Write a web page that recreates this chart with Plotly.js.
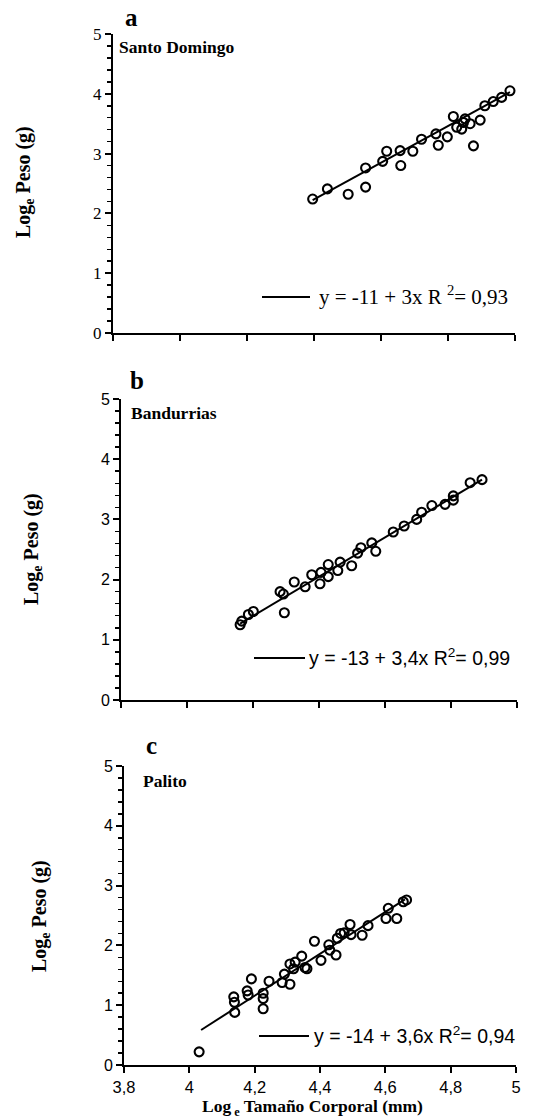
<!DOCTYPE html>
<html><head><meta charset="utf-8">
<script src="https://cdn.plot.ly/plotly-3.0.1.min.js"></script>
<style>html,body{margin:0;padding:0;background:#fff}#chart{width:560px;height:1120px}</style>
</head><body><div id="chart"></div>
<script>
// ---- data ----
const panelLetters = ['a', 'b', 'c'];
const siteNames = ['Santo Domingo', 'Bandurrias', 'Palito'];
const fitLabels = ['y = -11 + 3x R <sup>2</sup>= 0,93', 'y = -13 + 3,4x R<sup>2</sup>= 0,99', 'y = -14 + 3,6x R<sup>2</sup>= 0,94'];
const yTitle = 'Log<sub>e</sub> Peso (g)';
const xTitle = 'Log<sub> e</sub> Tamaño Corporal (mm)';

// a: Santo Domingo
const sdX = [4.396, 4.440, 4.502, 4.554, 4.554, 4.605, 4.617, 4.657, 4.659, 4.695, 4.721, 4.764, 4.771, 4.798, 4.816, 4.826, 4.846, 4.851, 4.841, 4.866, 4.896, 4.876, 4.910, 4.935, 4.960, 4.985];
const sdY = [2.24, 2.41, 2.32, 2.76, 2.44, 2.87, 3.04, 3.05, 2.80, 3.04, 3.24, 3.33, 3.14, 3.28, 3.62, 3.44, 3.52, 3.58, 3.41, 3.50, 3.56, 3.13, 3.80, 3.87, 3.94, 4.05];
const sdFitX = [4.396, 4.985];
const sdFitY = [2.22, 4.03];

// b: Bandurrias
const baX = [4.161, 4.166, 4.186, 4.201, 4.282, 4.292, 4.295, 4.325, 4.358, 4.378, 4.403, 4.406, 4.428, 4.428, 4.457, 4.464, 4.499, 4.517, 4.527, 4.560, 4.572, 4.625, 4.658, 4.696, 4.711, 4.742, 4.782, 4.807, 4.807, 4.858, 4.894];
const baY = [1.25, 1.31, 1.42, 1.47, 1.80, 1.76, 1.45, 1.96, 1.88, 2.08, 1.93, 2.12, 2.25, 2.05, 2.15, 2.29, 2.23, 2.44, 2.53, 2.61, 2.47, 2.79, 2.89, 3.00, 3.12, 3.23, 3.25, 3.32, 3.39, 3.61, 3.66];
const baFitX = [4.161, 4.894];
const baFitY = [1.27, 3.66];

// c: Palito
const paX = [4.030, 4.136, 4.138, 4.139, 4.177, 4.180, 4.190, 4.226, 4.226, 4.226, 4.244, 4.284, 4.291, 4.308, 4.308, 4.319, 4.324, 4.344, 4.354, 4.360, 4.383, 4.403, 4.427, 4.430, 4.449, 4.453, 4.463, 4.474, 4.492, 4.495, 4.529, 4.547, 4.602, 4.609, 4.635, 4.655, 4.665];
const paY = [0.22, 1.14, 1.05, 0.88, 1.24, 1.17, 1.44, 1.20, 1.11, 0.94, 1.40, 1.38, 1.52, 1.35, 1.69, 1.61, 1.72, 1.82, 1.63, 1.61, 2.07, 1.75, 2.01, 1.92, 1.84, 2.12, 2.20, 2.21, 2.35, 2.18, 2.17, 2.33, 2.45, 2.62, 2.45, 2.73, 2.76];
const paFitX = [4.036, 4.660];
const paFitY = [0.585, 2.77];

// ---- layout helpers (pixel -> paper) ----
const W = 560, H = 1120;
const px = v => v / W;
const py = v => 1 - v / H;
const SERIF = 'Liberation Serif, Times New Roman, serif';
const SANS = 'Liberation Sans, Arial, sans-serif';

const panels = [
  {xs: sdX, ys: sdY, fx: sdFitX, fy: sdFitY, xd: [113, 515], yd: [333, 34], tickFont: SERIF, tickSize: 17, legFont: SERIF, legSize: 21},
  {xs: baX, ys: baY, fx: baFitX, fy: baFitY, xd: [121, 517], yd: [700, 399], tickFont: SANS, tickSize: 16, legFont: SANS, legSize: 19.5},
  {xs: paX, ys: paY, fx: paFitX, fy: paFitY, xd: [124, 516], yd: [1065, 766], tickFont: SANS, tickSize: 16, legFont: SANS, legSize: 19.5}
];
const legLine = [[262, 310, 297], [254, 305, 658], [259, 309, 1036]];
const legText = [[317, 296], [307, 657], [312, 1035]];
const letterPos = [[123, 18], [128, 380], [144, 745]];
const sitePos = [[117, 47], [129, 413], [141, 781]];
const yTitlePos = [[25, 182], [33, 549], [40, 916]];

const data = [];
const layout = {
  width: W, height: H,
  margin: {l: 0, r: 0, t: 0, b: 0},
  paper_bgcolor: '#fff', plot_bgcolor: '#fff',
  separators: ',.',
  showlegend: false,
  annotations: [], shapes: [],
  font: {family: SERIF, color: '#000'}
};

panels.forEach((p, i) => {
  const n = i === 0 ? '' : String(i + 1);
  const xa = 'x' + n, ya = 'y' + n;
  data.push({
    x: p.xs, y: p.ys, xaxis: xa, yaxis: ya, type: 'scatter', mode: 'markers',
    marker: {symbol: 'circle-open', size: 9, color: '#000', line: {width: 2.1, color: '#000'}},
    hoverinfo: 'skip', cliponaxis: false, name: siteNames[i]
  });
  data.push({
    x: p.fx, y: p.fy, xaxis: xa, yaxis: ya, type: 'scatter', mode: 'lines',
    line: {color: '#000', width: 2}, name: fitLabels[i], hoverinfo: 'skip'
  });
  layout['xaxis' + n] = {
    domain: [px(p.xd[0]), px(p.xd[1])], anchor: ya,
    range: [3.8, 5], tickmode: 'linear', tick0: 3.8, dtick: 0.2,
    ticks: 'outside', ticklen: 6, tickwidth: 2, tickcolor: '#000',
    showline: true, linewidth: 2, linecolor: '#000', showgrid: false, zeroline: false,
    showticklabels: i === 2, tickfont: {family: SANS, size: 16.5, color: '#000'}, ticklabelstandoff: 0,
    automargin: false, fixedrange: true
  };
  layout['yaxis' + n] = {
    domain: [py(p.yd[0]), py(p.yd[1])], anchor: xa,
    range: [0, 5], tickmode: 'linear', tick0: 0, dtick: 1,
    ticks: 'outside', ticklen: 6, tickwidth: 2, tickcolor: '#000',
    minor: {tickmode: 'linear', tick0: 0, dtick: 0.2, ticks: 'outside', ticklen: 4, tickwidth: 1.5, tickcolor: '#000', showgrid: false},
    showline: true, linewidth: 2, linecolor: '#000', showgrid: false, zeroline: false,
    tickfont: {family: p.tickFont, size: p.tickSize, color: '#000'}, ticklabelstandoff: 0,
    automargin: false, fixedrange: true
  };
  // equation key: short line + text
  layout.shapes.push({
    type: 'line', xref: 'paper', yref: 'paper',
    x0: px(legLine[i][0]), x1: px(legLine[i][1]), y0: py(legLine[i][2]), y1: py(legLine[i][2]),
    line: {color: '#000', width: 2}
  });
  layout.annotations.push({
    xref: 'paper', yref: 'paper', x: px(legText[i][0]), y: py(legText[i][1]),
    xanchor: 'left', yanchor: 'middle', showarrow: false, text: fitLabels[i],
    font: {family: p.legFont, size: p.legSize, color: '#000'}
  });
  layout.annotations.push({
    xref: 'paper', yref: 'paper', x: px(letterPos[i][0]), y: py(letterPos[i][1]),
    xanchor: 'left', yanchor: 'middle', showarrow: false, text: panelLetters[i],
    font: {family: SERIF, size: 25, weight: 'bold', color: '#000'}
  });
  layout.annotations.push({
    xref: 'paper', yref: 'paper', x: px(sitePos[i][0]), y: py(sitePos[i][1]),
    xanchor: 'left', yanchor: 'middle', showarrow: false, text: siteNames[i],
    font: {family: SERIF, size: 17.5, weight: 'bold', color: '#000'}
  });
  layout.annotations.push({
    xref: 'paper', yref: 'paper', x: px(yTitlePos[i][0]), y: py(yTitlePos[i][1]),
    xanchor: 'center', yanchor: 'middle', showarrow: false, text: yTitle, textangle: -90,
    font: {family: SERIF, size: 20, weight: 'bold', color: '#000'}
  });
});
layout.annotations.push({
  xref: 'paper', yref: 'paper', x: px(312), y: py(1107),
  xanchor: 'center', yanchor: 'middle', showarrow: false, text: xTitle,
  font: {family: SERIF, size: 17.5, weight: 'bold', color: '#000'}
});

Plotly.newPlot('chart', data, layout, {staticPlot: true, displayModeBar: false});
</script></body></html>
